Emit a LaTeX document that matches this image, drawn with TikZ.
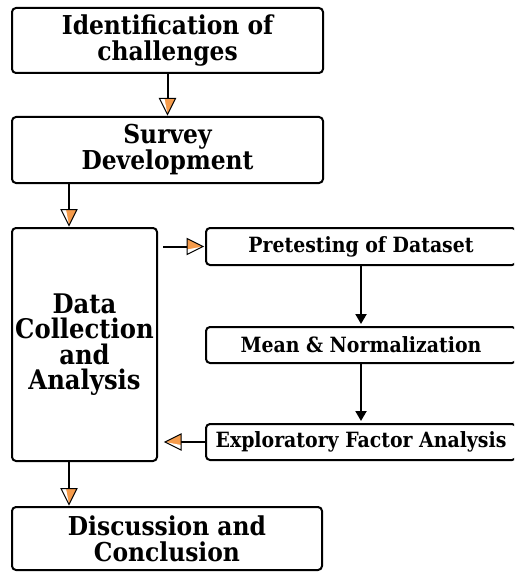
\documentclass[tikz,border=0pt]{standalone}
\usepackage{fontspec}
\setmainfont{DejaVu Serif Condensed}[BoldFont={DejaVu Serif Condensed Bold}]
\usetikzlibrary{arrows.meta}
\definecolor{tipor}{RGB}{245,155,75}
\newcommand\bigf{\fontsize{26}{26}\selectfont\bfseries}
\newcommand\midf{\fontsize{27}{25.5}\selectfont\bfseries}
\newcommand\smallf{\fontsize{21}{21}\selectfont\bfseries}
\tikzset{
  box/.style={draw, line width=2pt, rounded corners=4pt, align=center, inner sep=0pt},
  conn/.style={line width=2pt},
  bconn/.style={line width=2pt, -{Triangle[length=10pt,width=11pt]}, shorten >=2pt},
  otip/.pic={
    \fill[tipor] (0,0) -- (-16,8) -- (-16,-8) -- cycle;
    \fill[white] (0,0) -- (-16,8) -- (-16,3) -- cycle;
    \draw[line width=1pt, line join=miter] (0,0) -- (-16,8) -- (-16,-8) -- cycle;
  },
  otipm/.pic={
    \fill[tipor] (0,0) -- (-16,8) -- (-16,-8) -- cycle;
    \fill[white] (0,0) -- (-16,-8) -- (-16,-3) -- cycle;
    \draw[line width=1pt, line join=miter] (0,0) -- (-16,8) -- (-16,-8) -- cycle;
  }
}
\begin{document}
\begin{tikzpicture}[x=1pt,y=-1pt]
\useasboundingbox (0,0) rectangle (514,572);
\clip (0,0) rectangle (514,572);
\node[box, font=\bigf, minimum width=311pt, minimum height=65pt] (n1) at (167.5,40.5) {Identification of\\challenges};
\node[box, font=\bigf, minimum width=311pt, minimum height=66pt] (n2) at (167.5,150) {Survey\\Development};
\node[box, font=\midf, minimum width=145pt, minimum height=233pt] (n3) at (84.5,344.5) {Data\\Collection\\and\\Analysis};
\node[box, font=\smallf, minimum width=310pt, minimum height=37pt] (p1) at (361,246.5) {Pretesting of Dataset};
\node[box, font=\smallf, minimum width=310pt, minimum height=36pt] (p2) at (361,345) {Mean \& Normalization};
\node[box, font=\smallf, minimum width=310pt, minimum height=36pt] (p3) at (361,442) {Exploratory Factor Analysis};
\node[box, font=\bigf, minimum width=310pt, minimum height=63pt] (n4) at (167,538.5) {Discussion and\\Conclusion};

\coordinate (t1) at ([yshift=1.5pt]n2.north);
\draw[conn] (n1.south) -- ([yshift=8pt]t1);
\pic[rotate=-90] at (t1) {otip};

\coordinate (t2) at ([xshift=58pt,yshift=1.5pt]n3.north west);
\draw[conn] ([xshift=58pt]n2.south west) -- ([yshift=8pt]t2);
\pic[rotate=-90] at (t2) {otip};

\coordinate (t3) at ([xshift=-2pt]p1.west);
\draw[conn] ([xshift=5pt]n3.east |- p1.west) -- ([xshift=-8pt]t3);
\pic at (t3) {otip};

\draw[bconn] (p1.south) -- (p2.north);
\draw[bconn] (p2.south) -- (p3.north);

\coordinate (t4) at ([xshift=7pt]n3.east |- p3.west);
\draw[conn] (p3.west) -- ([xshift=8pt]t4);
\pic[rotate=180] at (t4) {otipm};

\coordinate (t5) at ([xshift=58pt,yshift=1.5pt]n4.north west);
\draw[conn] ([xshift=58pt]n3.south west) -- ([yshift=8pt]t5);
\pic[rotate=-90] at (t5) {otip};
\end{tikzpicture}
\end{document}
